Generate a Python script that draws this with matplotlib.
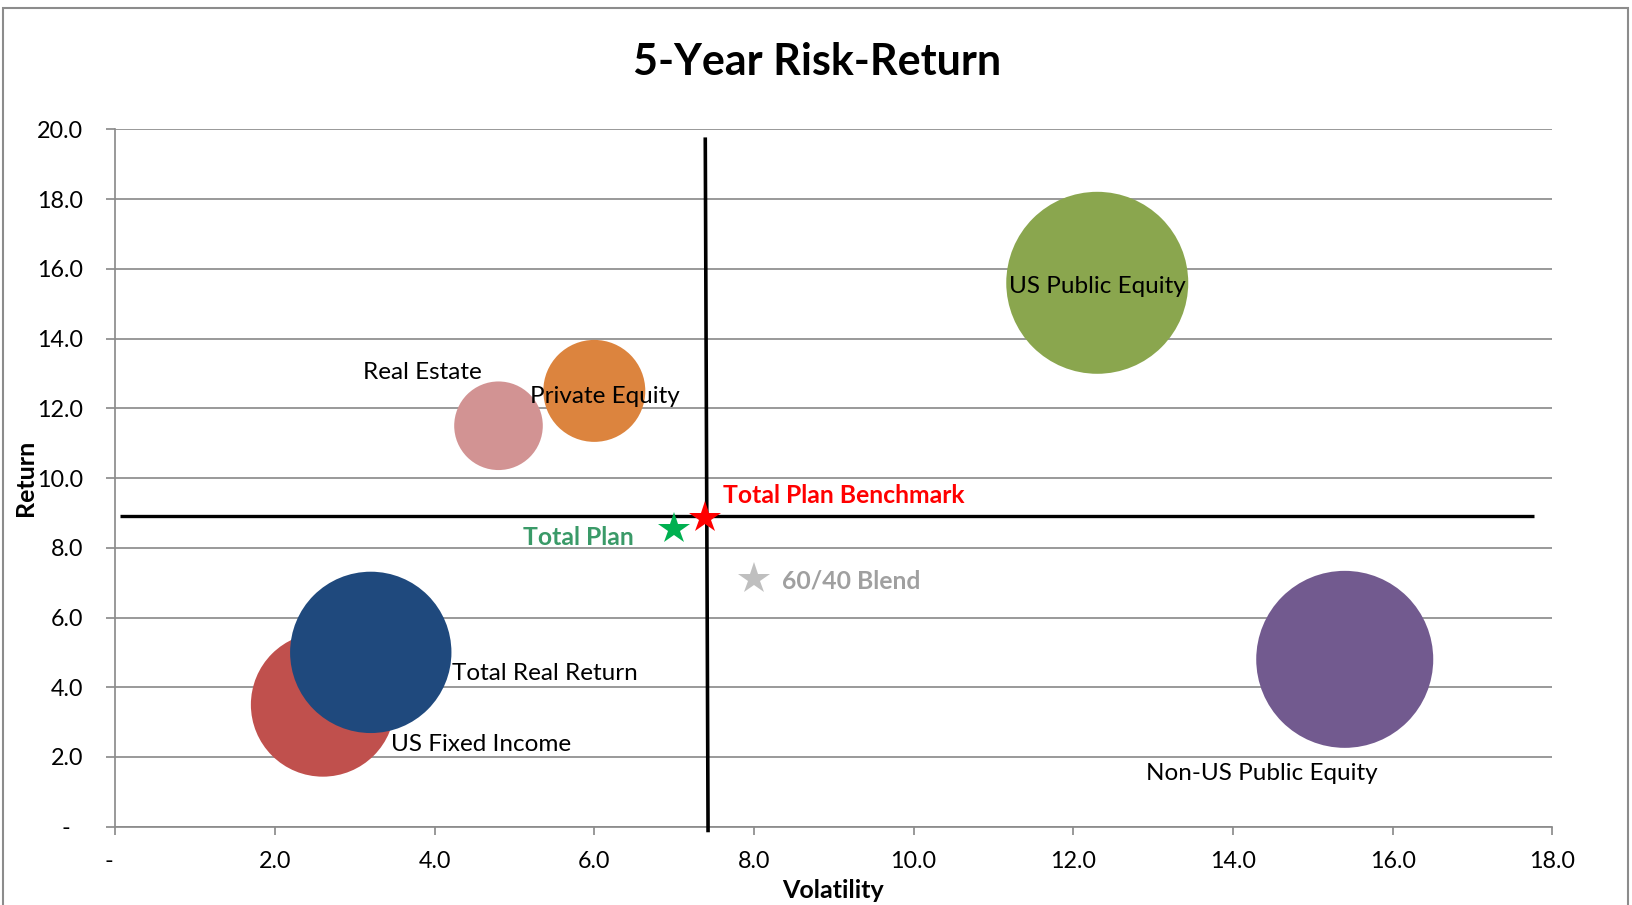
import matplotlib
matplotlib.use("Agg")
import matplotlib.pyplot as plt
from matplotlib.patches import Rectangle
import numpy as np

# ---------------- data ----------------
asset_names = ["US Fixed Income", "Total Real Return", "Real Estate",
               "Private Equity", "US Public Equity", "Non-US Public Equity"]
asset_volatility = [2.6, 3.2, 4.8, 6.0, 12.3, 15.4]
asset_return = [3.5, 5.0, 11.5, 12.5, 15.6, 4.8]
bubble_size = [62.6, 78.6, 23.7, 31.4, 100.0, 94.6]
bubble_colors = ["#C0504D", "#1F497D", "#D29393", "#DC843E", "#8AA64E", "#725A8F"]

star_names = ["Total Plan", "Total Plan Benchmark", "60/40 Blend"]
star_volatility = [7.0, 7.39, 8.0]
star_return = [8.55, 8.85, 7.1]
star_colors = ["#00B050", "#FF0000", "#BFBFBF"]
star_label_colors = ["#3A9A68", "#FF0000", "#A0A0A0"]

# benchmark cross-hair lines
vline_x = [7.39, 7.425]
vline_y = [19.77, -0.16]
hline_x = [0.06, 17.77]
hline_y = [8.9, 8.9]

x_ticks = [0, 2, 4, 6, 8, 10, 12, 14, 16, 18]
x_tick_labels = ["-  ", "2.0", "4.0", "6.0", "8.0", "10.0", "12.0", "14.0", "16.0", "18.0"]
y_ticks = [0, 2, 4, 6, 8, 10, 12, 14, 16, 18, 20]
y_tick_labels = ["-  ", "2.0", "4.0", "6.0", "8.0", "10.0", "12.0", "14.0", "16.0", "18.0", "20.0"]

title = "5-Year Risk-Return"
x_label = "Volatility"
y_label = "Return"

# ---------------- styling ----------------
W, H = 1633, 905
DPI = 100
plt.rcParams["font.family"] = ["Lato", "DejaVu Sans"]
GRID = "#8C8C8C"
size_scale = 171.7  # pt^2 per bubble-size unit

# label placement (offset in points from the mark, ha)
asset_label_style = {
    "US Fixed Income": ((49, -33.1), "left"),
    "Total Real Return": ((58.5, -19.8), "left"),
    "Real Estate": ((-54.6, 33.5), "center"),
    "Private Equity": ((7.9, -8.7), "center"),
    "US Public Equity": ((0, -7.0), "center"),
    "Non-US Public Equity": ((-59.9, -87.1), "center"),
}
star_label_style = {
    "Total Plan": ((-29.3, -11.7), "right"),
    "Total Plan Benchmark": ((13, 11.2), "left"),
    "60/40 Blend": ((20.4, -6.4), "left"),
}

fig = plt.figure(figsize=(W / DPI, H / DPI), dpi=DPI)
fig.patch.set_facecolor("white")
ax = fig.add_axes([115.3 / W, (H - 826.7) / H, (1552.3 - 115.3) / W, (826.7 - 129.4) / H])

ax.set_xlim(0, 18)
ax.set_ylim(0, 20)

# grid & spines
ax.yaxis.grid(True, color=GRID, linewidth=1.25, zorder=0)
ax.xaxis.grid(False)
ax.set_axisbelow(True)
for s in ["top", "right"]:
    ax.spines[s].set_visible(False)
for s in ["left", "bottom"]:
    ax.spines[s].set_color(GRID)
    ax.spines[s].set_linewidth(1.25)

ax.set_xticks(x_ticks)
ax.set_xticklabels(x_tick_labels)
ax.set_yticks(y_ticks)
ax.set_yticklabels(y_tick_labels)
ax.tick_params(axis="y", direction="out", length=6.5, width=1.25, color=GRID,
               pad=16.8, labelsize=16.8, labelcolor="black")
ax.tick_params(axis="x", direction="out", length=6, width=1.25, color=GRID,
               pad=11.5, labelsize=16.8, labelcolor="black")

# bubbles
ax.scatter(asset_volatility, asset_return,
           s=np.array(bubble_size) * size_scale,
           c=bubble_colors, edgecolors="none", zorder=2, clip_on=False)

# benchmark lines
ax.plot(vline_x, vline_y, color="black", linewidth=2.6, zorder=3, clip_on=False,
        solid_capstyle="butt")
ax.plot(hline_x, hline_y, color="black", linewidth=2.4, zorder=3, clip_on=False,
        solid_capstyle="butt")

# stars
for vx, vy, c in zip(star_volatility, star_return, star_colors):
    ax.plot([vx], [vy], marker="*", markersize=24, color=c,
            markeredgewidth=0, linestyle="none", zorder=4)

# asset labels
for name, vx, vy in zip(asset_names, asset_volatility, asset_return):
    off, ha = asset_label_style[name]
    ax.annotate(name, (vx, vy), xytext=off, textcoords="offset points",
                ha=ha, va="baseline", fontsize=17.5, color="black", zorder=5)

# star labels
for name, vx, vy, c in zip(star_names, star_volatility, star_return, star_label_colors):
    off, ha = star_label_style[name]
    ax.annotate(name, (vx, vy), xytext=off, textcoords="offset points",
                ha=ha, va="baseline", fontsize=17.8, color=c,
                fontweight="bold", zorder=5)

# titles
fig.text(816.7 / W, (H - 75) / H, title, ha="center", va="baseline",
         fontsize=31, fontweight="bold", color="black")
fig.text(833.3 / W, (H - 898.3) / H, x_label, ha="center", va="baseline",
         fontsize=18, fontweight="bold", color="black")
fig.text(33.3 / W, (H - 478.3) / H, y_label, ha="center", va="baseline",
         rotation=90, rotation_mode="anchor",
         fontsize=18, fontweight="bold", color="black")

# outer chart border
fig.patches.append(Rectangle((3 / W, -0.05), (1628 - 3) / W, (H - 8) / H + 0.05,
                             transform=fig.transFigure, fill=False,
                             edgecolor=GRID, linewidth=1.5, zorder=0))

fig.savefig("out.png", dpi=DPI, facecolor="white")
